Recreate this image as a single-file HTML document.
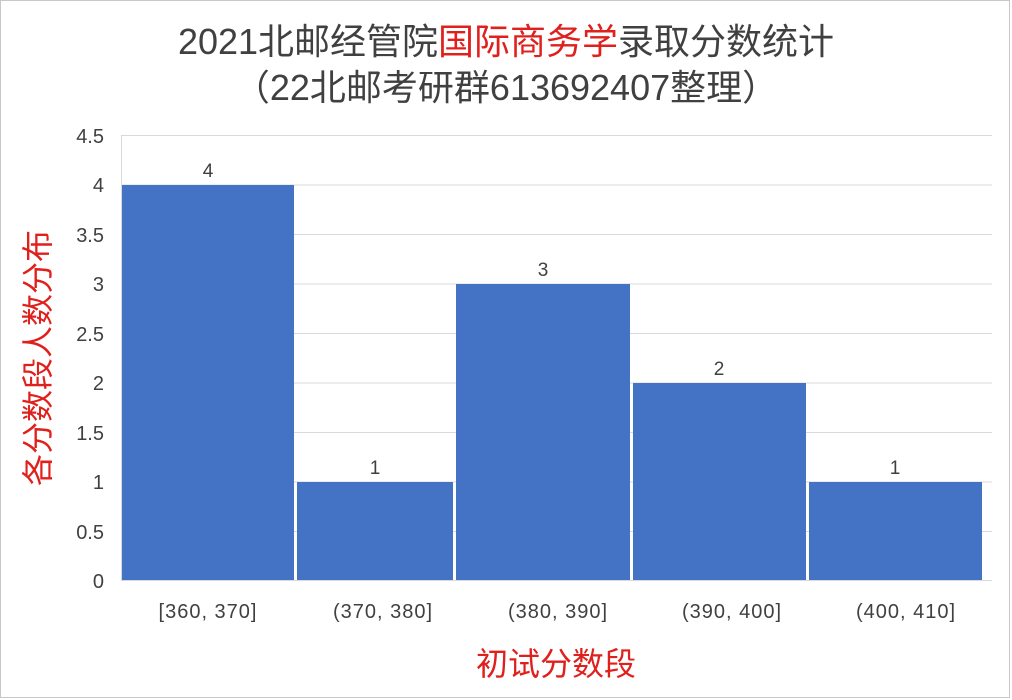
<!DOCTYPE html>
<html><head><meta charset="utf-8"><style>
body{margin:0;background:#fff;}
svg{display:block;font-family:"Liberation Sans","Noto Sans CJK SC",sans-serif;}
</style></head><body>
<svg width="1012" height="700" viewBox="0 0 1012 700">
<rect x="0.5" y="0.5" width="1009" height="697" fill="#fff" stroke="#c8c8c8"/>
<text x="506" y="54" text-anchor="middle" font-size="36" fill="#404040">2021北邮经管院<tspan fill="#e0201c">国际商务学</tspan>录取分数统计</text>
<text x="506" y="100" text-anchor="middle" font-size="36" fill="#404040">（22北邮考研群613692407整理）</text>
<g stroke="#d9d9d9" stroke-width="1">
<line x1="121" y1="135.5" x2="992" y2="135.5"/>
<line x1="121" y1="185" x2="992" y2="185"/>
<line x1="121" y1="234.5" x2="992" y2="234.5"/>
<line x1="121" y1="284" x2="992" y2="284"/>
<line x1="121" y1="333.5" x2="992" y2="333.5"/>
<line x1="121" y1="383" x2="992" y2="383"/>
<line x1="121" y1="432.5" x2="992" y2="432.5"/>
<line x1="121" y1="482" x2="992" y2="482"/>
<line x1="121" y1="531.5" x2="992" y2="531.5"/>
<line x1="121" y1="580.5" x2="992" y2="580.5"/>
<line x1="121.5" y1="135" x2="121.5" y2="580"/>
</g>
<g fill="#4472c4">
<rect x="122" y="185" width="172" height="395"/>
<rect x="297" y="482" width="156" height="98"/>
<rect x="456" y="284" width="174" height="296"/>
<rect x="633" y="383" width="173" height="197"/>
<rect x="809" y="482" width="173" height="98"/>
</g>
<g font-size="20" fill="#404040" text-anchor="end">
<text x="104" y="143">4.5</text><text x="104" y="192">4</text><text x="104" y="242">3.5</text>
<text x="104" y="291">3</text><text x="104" y="341">2.5</text><text x="104" y="390">2</text>
<text x="104" y="440">1.5</text><text x="104" y="489">1</text><text x="104" y="539">0.5</text>
<text x="104" y="588">0</text>
</g>
<g font-size="19" fill="#404040" text-anchor="middle">
<text x="208" y="177">4</text><text x="375" y="474">1</text><text x="543" y="276">3</text>
<text x="719" y="375">2</text><text x="895" y="474">1</text>
</g>
<g font-size="20" fill="#404040" text-anchor="middle" letter-spacing="1">
<text x="208" y="618">[360, 370]</text><text x="383" y="618">(370, 380]</text>
<text x="558" y="618">(380, 390]</text><text x="732" y="618">(390, 400]</text>
<text x="906" y="618">(400, 410]</text>
</g>
<text x="556" y="675" text-anchor="middle" font-size="32" fill="#e0201c">初试分数段</text>
<text transform="translate(49,358) rotate(-90)" text-anchor="middle" font-size="32" fill="#e0201c">各分数段人数分布</text>
</svg>
</body></html>
